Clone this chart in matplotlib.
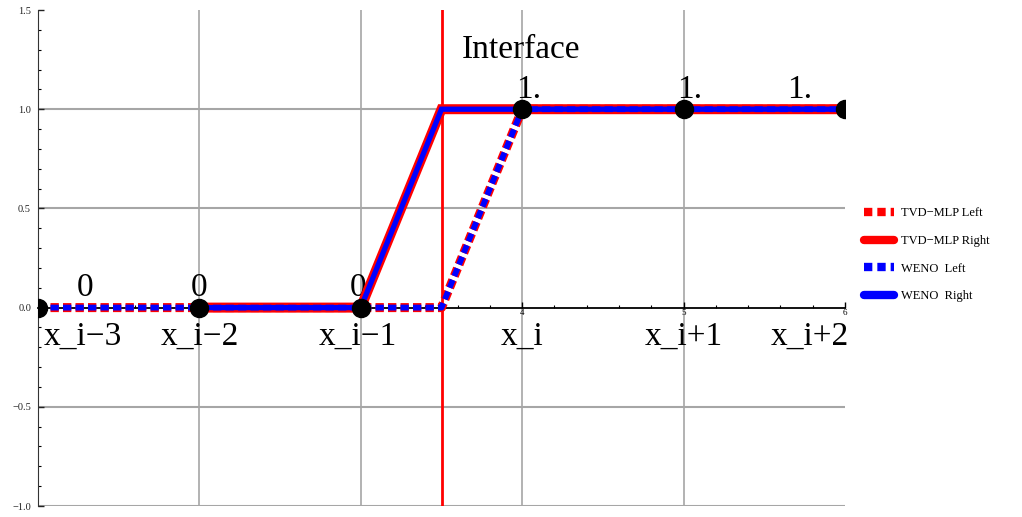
import numpy as np
import matplotlib
matplotlib.use("Agg")
import matplotlib.pyplot as plt
from matplotlib.lines import Line2D
from matplotlib.ticker import MultipleLocator

plt.rcParams["font.family"] = ["Liberation Serif", "DejaVu Serif"]

# cell nodes and the cell values on them
x_nodes = [1, 2, 3, 4, 5, 6]
node_values = [0, 0, 0, 1, 1, 1]
node_texts = ["0", "0", "0", "1.", "1.", "1."]
node_text_x = [1.29, 2.0, 2.98, 4.04, 5.04, 5.72]

cell_names = ["x_i\u22123", "x_i\u22122", "x_i\u22121", "x_i", "x_i+1", "x_i+2"]
cell_name_x = [1.28, 2.0, 2.98, 4.0, 5.0, 5.78]

# reconstructed states left/right of the interface
x_left = [1, 2, 3, 3.5, 4, 5, 6]
tvd_left = [0, 0, 0, 0, 1, 1, 1]
weno_left = [0, 0, 0, 0, 1, 1, 1]

x_right = [2, 3, 3.5, 4, 5, 6]
tvd_right = [0, 0, 1, 1, 1, 1]
weno_right = [0, 0, 1, 1, 1, 1]

interface_x = 3.5

fig = plt.figure(figsize=(10.22, 5.17), dpi=100)
ax = fig.add_axes([38 / 1022, 11 / 517, 807 / 1022, 496 / 517])
ax.set_xlim(1, 6)
ax.set_ylim(-1.0, 1.5)

# grid
for gx in [2, 3, 4, 5]:
    ax.axvline(gx, color="#a6a6a6", lw=1.2, zorder=0)
for gy in [-1.0, -0.5, 0.5, 1.0]:
    ax.axhline(gy, color="#a6a6a6", lw=1.5, zorder=0)

ax.axvline(interface_x, color="red", lw=2, zorder=1)

# same dash pattern (in points) for both dashed curves
on, off = 6.0, 3.0
red_lw, blue_lw = 6.5, 4.2
ax.plot(x_left, tvd_left, color="red", lw=red_lw,
        ls=(0, (on / red_lw, off / red_lw)), zorder=3, dash_capstyle="butt")
ax.plot(x_right, tvd_right, color="red", lw=7.2, zorder=4, solid_joinstyle="miter")
ax.plot(x_left, weno_left, color="blue", lw=blue_lw,
        ls=(0, (on / blue_lw, off / blue_lw)), zorder=5, dash_capstyle="butt")
ax.plot(x_right, weno_right, color="blue", lw=3.8, zorder=6, solid_joinstyle="miter")

ax.plot(x_nodes, node_values, "o", color="black", ms=13, zorder=7)

for tx, v, t in zip(node_text_x, node_values, node_texts):
    ax.text(tx, v + 0.058, t, fontsize=24, ha="center", va="baseline")

for tx, t in zip(cell_name_x, cell_names):
    ax.text(tx, -0.185, t, fontsize=24, ha="center", va="baseline")

ax.text(3.627, 1.258, "Interface", fontsize=24, ha="left", va="baseline")

# axes styling
for s in ["top", "right"]:
    ax.spines[s].set_visible(False)
ax.spines["left"].set_color("#333333")
ax.spines["bottom"].set_position(("data", 0))
ax.spines["bottom"].set_color("black")
ax.spines["bottom"].set_linewidth(1.3)
ax.spines["bottom"].set_zorder(2)

ax.yaxis.set_major_locator(MultipleLocator(0.5))
ax.yaxis.set_minor_locator(MultipleLocator(0.1))
ax.set_yticklabels([f"{v:.1f}".replace("-", "\u2212") for v in ax.get_yticks()])
ax.tick_params(axis="y", which="major", direction="in", length=4, width=1,
               labelsize=7.5, pad=5, colors="#222222")
ax.tick_params(axis="y", which="minor", direction="in", length=2, width=0.8)

ax.set_xticks([2, 3, 4, 5, 6])
ax.set_xticklabels(["2", "3", "4", "5", "6"])
ax.xaxis.set_minor_locator(MultipleLocator(0.2))
ax.tick_params(axis="x", which="major", direction="in", length=4, width=1,
               labelsize=6.5, pad=1)
ax.tick_params(axis="x", which="minor", direction="in", length=2, width=0.8)

handles = [
    Line2D([], [], color="red", lw=6, ls=(0, (1.0, 0.6))),
    Line2D([], [], color="red", lw=6, solid_capstyle="round"),
    Line2D([], [], color="blue", lw=6, ls=(0, (1.0, 0.6))),
    Line2D([], [], color="blue", lw=6, solid_capstyle="round"),
]
labels = ["TVD\u2212MLP Left", "TVD\u2212MLP Right", "WENO  Left", "WENO  Right"]
fig.legend(handles, labels, loc="center left", bbox_to_anchor=(0.845, 0.507),
           frameon=False, fontsize=9, handlelength=2.4, handletextpad=0.6,
           labelspacing=1.25, borderpad=0, borderaxespad=0)

fig.savefig("out.png", dpi=100)
